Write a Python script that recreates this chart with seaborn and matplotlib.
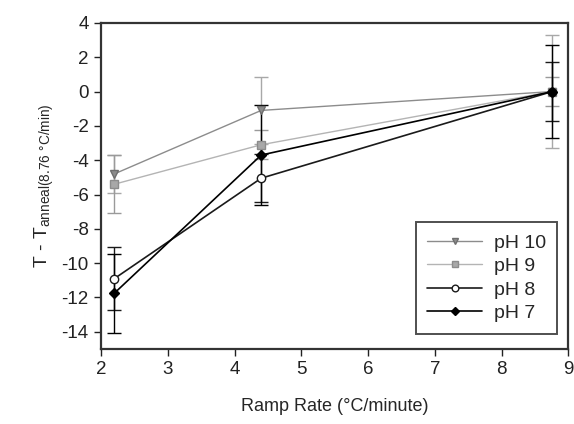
import matplotlib
matplotlib.use("Agg")
import matplotlib.pyplot as plt
import seaborn as sns
import pandas as pd

ramp = [2.2, 4.4, 8.76]
series = ["pH 10", "pH 9", "pH 8", "pH 7"]
ph10 = [-4.8, -1.1, 0.0]
ph9 = [-5.4, -3.1, 0.0]
ph8 = [-10.9, -5.05, 0.0]
ph7 = [-11.75, -3.7, 0.0]
err10 = [1.1, 1.95, 3.3]
err9 = [1.7, 0.85, 0.85]
err8 = [1.85, 1.4, 1.7]
err7 = [2.3, 2.9, 2.7]
xticks = [2, 3, 4, 5, 6, 7, 8, 9]
yticks = [-14, -12, -10, -8, -6, -4, -2, 0, 2, 4]

sns.set_theme(style="ticks")
plt.rcParams['font.family'] = ['Liberation Sans', 'DejaVu Sans']
plt.rcParams['axes.unicode_minus'] = False

fig = plt.figure(figsize=(5.74, 4.24), dpi=100)
ax = fig.add_axes([0.176, 0.177, 0.814, 0.769])

vals = {"pH 10": ph10, "pH 9": ph9, "pH 8": ph8, "pH 7": ph7}
errs = {"pH 10": err10, "pH 9": err9, "pH 8": err8, "pH 7": err7}
styles = {
    "pH 10": dict(color="#8c8c8c", marker="v", mfc="#8c8c8c", mec="#6e6e6e", ecol="#a8a8a8", lw=1.0),
    "pH 9": dict(color="#b4b4b4", marker="s", mfc="#a8a8a8", mec="#8c8c8c", ecol="#9a9a9a", lw=1.0),
    "pH 8": dict(color="#1a1a1a", marker="o", mfc="white", mec="#1a1a1a", ecol="#1a1a1a", lw=1.2),
    "pH 7": dict(color="#000000", marker="D", mfc="black", mec="black", ecol="#000000", lw=1.2),
}

for s in series:
    st = styles[s]
    ax.errorbar(ramp, vals[s], yerr=errs[s], fmt="none", ecolor=st["ecol"],
                elinewidth=1.0, capsize=5, capthick=1.0, zorder=2)

for s in series:
    st = styles[s]
    df = pd.DataFrame({"x": ramp, "y": vals[s]})
    sns.lineplot(data=df, x="x", y="y", ax=ax, color=st["color"], lw=st["lw"],
                 marker=st["marker"], markersize=6 if st["marker"] != "D" else 5,
                 markerfacecolor=st["mfc"], markeredgecolor=st["mec"], markeredgewidth=1.0,
                 label=s, zorder=3)

ax.set_xlim(2, 9)
ax.set_ylim(-15, 4)
ax.set_xticks(xticks)
ax.set_yticks(yticks)
ax.tick_params(direction="out", length=5, width=1.0, labelsize=13.5, colors="#222222", pad=4)
for sp in ax.spines.values():
    sp.set_visible(True)
    sp.set_linewidth(1.6)
    sp.set_color("#333333")

ax.set_xlabel("Ramp Rate (°C/minute)", fontsize=13, labelpad=14)
ax.set_ylabel(r"T - T$_{\mathregular{anneal(8.76\ °C/min)}}$", fontsize=14, labelpad=4)

leg = ax.legend(loc="lower right", bbox_to_anchor=(0.985, 0.035), fontsize=14, frameon=True,
                fancybox=False, edgecolor="#222222", handlelength=2.8, borderpad=0.6,
                labelspacing=0.3, handletextpad=0.6, markerscale=0.8, borderaxespad=0.2)
leg.get_frame().set_linewidth(1.4)

fig.savefig("out.png", dpi=100)
